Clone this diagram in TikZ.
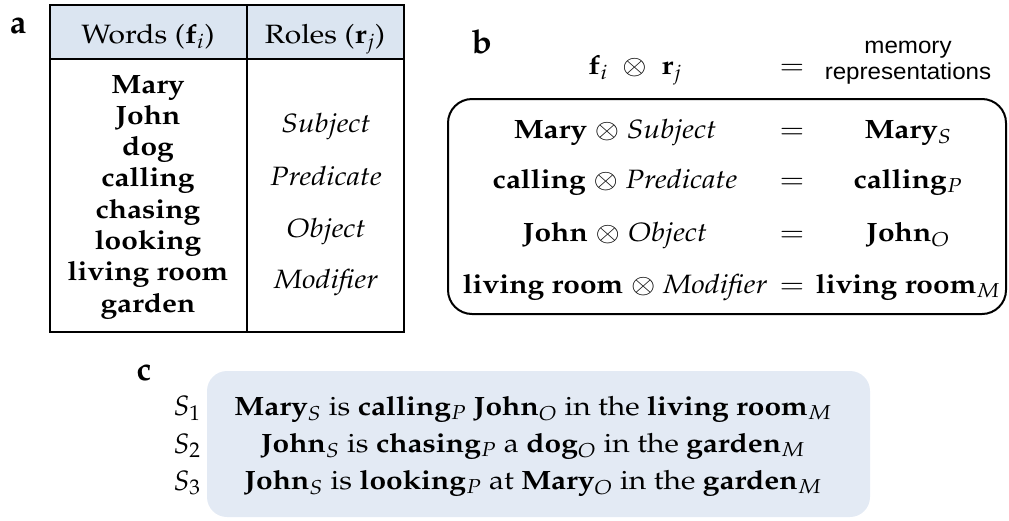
\documentclass[tikz,border=0pt]{standalone}
\usepackage{fontspec}
\newfontfamily\arialf{Liberation Sans}
\usepackage[T1]{fontenc}
\usepackage{mathpazo}
\usepackage{graphicx}
\definecolor{hdrblue}{RGB}{219,229,241}
\definecolor{cblue}{RGB}{227,234,244}
\newcommand\hx[1]{\scalebox{1.13}[1]{#1}}
\newcommand\ax[1]{\scalebox{1.05}[1]{#1}}
\begin{document}
\begin{tikzpicture}[x=1pt,y=-1pt,
  tx/.style={inner sep=0pt, anchor=base, font=\fontsize{26.5}{30}\selectfont},
  bx/.style={inner sep=0pt, anchor=base, font=\fontsize{26.5}{30}\selectfont\bfseries},
  slab/.style={inner sep=0pt, anchor=base, font=\fontsize{28}{30}\selectfont},
  panel/.style={inner sep=0pt, anchor=base, font=\fontsize{33}{33}\selectfont\bfseries},
  sans/.style={inner sep=0pt, anchor=base, font=\fontsize{23}{26}\selectfont\arialf},
  frame/.style={line width=2pt}]
\useasboundingbox (0,0) rectangle (1009,520);

% ---- panel a: table
\fill[hdrblue] (50,5) rectangle (404,59);
\draw[frame] (50,5) rectangle (404,332);
\draw[frame] (50,59) -- (404,59);
\draw[frame] (247,5) -- (247,332);
\node[panel] (la) at (18,33) {a};
\node[tx] (hw) at (148,43) {\hx{Words ($\mathbf{f}_i$)}};
\node[tx] (hr) at (325,43) {\hx{Roles ($\mathbf{r}_j$)}};
\foreach \w [count=\k from 0] in {Mary,John,dog,calling,chasing,looking,living room,garden}
  \node[bx] (w\k) at (148,{93+31.3*\k}) {\hx{\w}};
\foreach \r/\yy [count=\k] in {Subject/132,Predicate/185,Object/237,Modifier/288}
  \node[tx] (r\k) at (326,\yy) {\hx{\itshape \r}};

% ---- panel b
\node[panel] (lb) at (482,53) {b};
\node[draw, frame, rounded corners=24pt, minimum width=558pt, minimum height=215pt, inner sep=0pt] (bbox) at (727,206.5) {};
\node[tx] (fr) at (635,74) {\hx{$\mathbf{f}_i\;\otimes\;\mathbf{r}_j$}};
\node[tx] (eqh) at (792,74) {\hx{$=$}};
\node[sans] (mem1) at (908,53) {\ax{memory}};
\node[sans] (mem2) at (908,79) {\ax{representations}};
\foreach \a/\b/\s/\yy [count=\k] in {Mary/Subject/S/138, calling/Predicate/P/188, John/Object/O/241, living room/Modifier/M/293}
{
  \node[tx] (L\k) at (615,\yy) {\hx{\textbf{\a} $\otimes$ \textit{\b}}};
  \node[tx] (E\k) at (792,\yy) {\hx{$=$}};
  \node[tx] (R\k) at (908,\yy) {\hx{\textbf{\a}$_{\s}$}};
}

% ---- panel c
\node[panel] (lc) at (144,380) {c};
\node[fill=cblue, rounded corners=20pt, minimum width=663pt, minimum height=146pt, inner sep=0pt] (cbox) at (538.5,444) {};
\node[slab] (s1) at (187,415) {$S_1$};
\node[slab] (s2) at (187,453) {$S_2$};
\node[slab] (s3) at (187,490) {$S_3$};
\node[tx] (t1) at (533,415) {\hx{\textbf{Mary}$_S$ is \textbf{calling}$_P$ \textbf{John}$_O$ in the \textbf{living room}$_M$}};
\node[tx] (t2) at (533,452) {\hx{\textbf{John}$_S$ is \textbf{chasing}$_P$ a \textbf{dog}$_O$ in the \textbf{garden}$_M$}};
\node[tx] (t3) at (533,489) {\hx{\textbf{John}$_S$ is \textbf{looking}$_P$ at \textbf{Mary}$_O$ in the \textbf{garden}$_M$}};
\end{tikzpicture}
\end{document}
